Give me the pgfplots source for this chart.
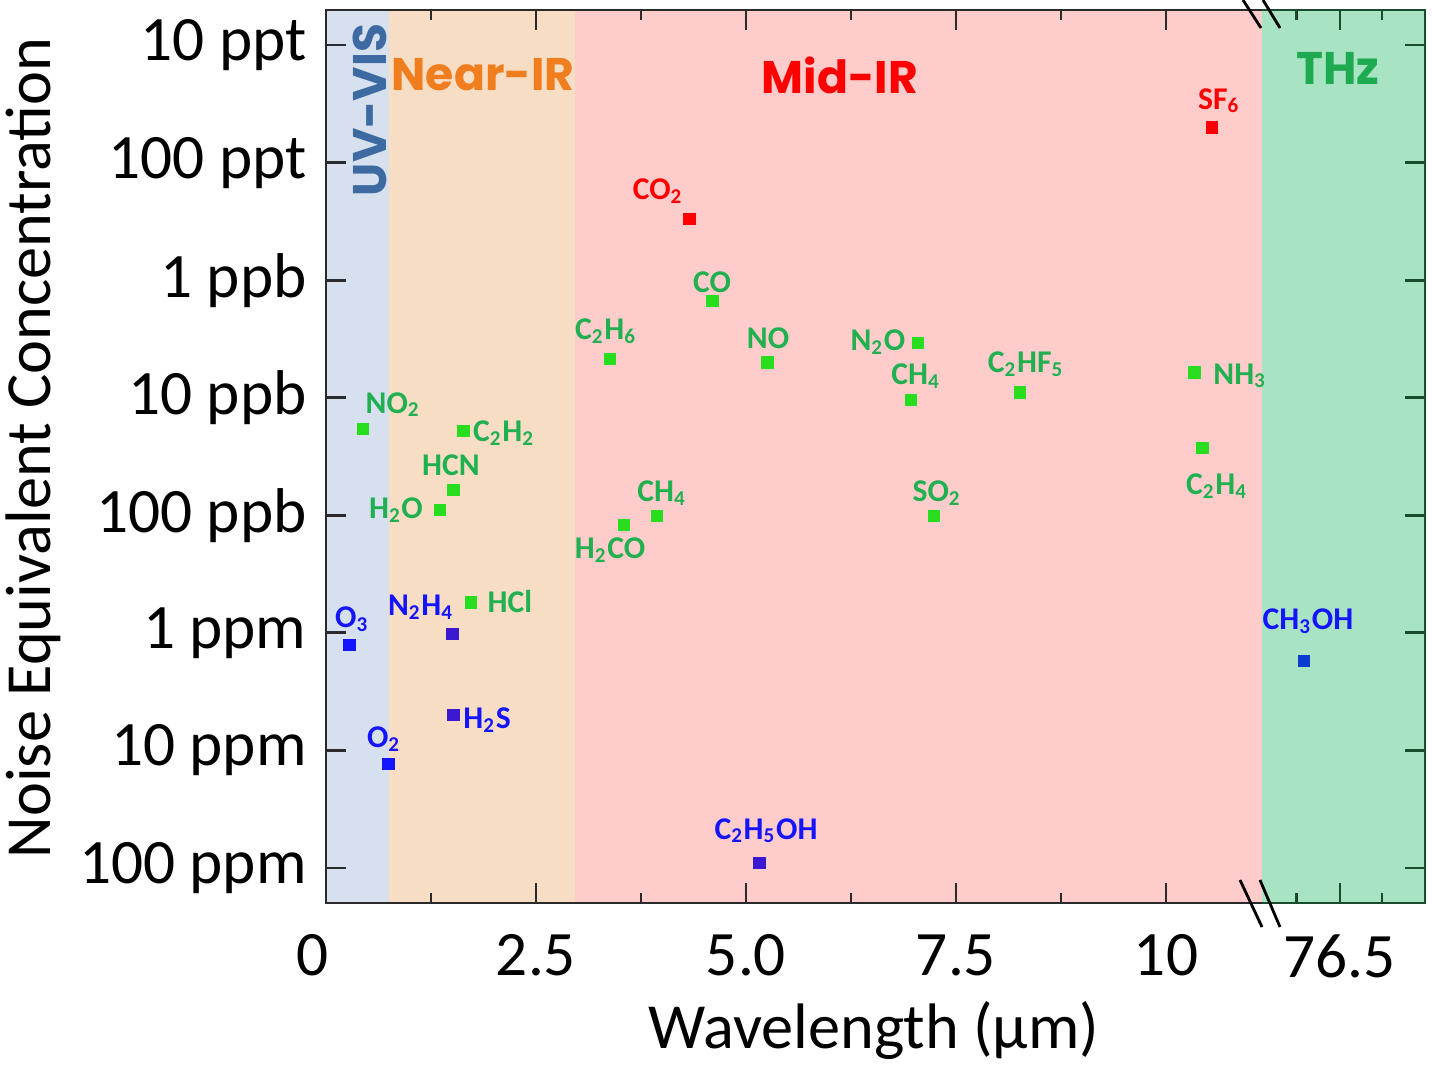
\documentclass[border=0pt]{standalone}
\usepackage{fontspec}
\setmainfont{Carlito}
\newfontfamily\regionfont{Poppins}
\usepackage{pgfplots}
\usepackage{pgfplotstable}
\pgfplotsset{compat=1.18}

\definecolor{uvbg}{HTML}{D6E0EF}
\definecolor{nearbg}{HTML}{F8DDC5}
\definecolor{midbg}{HTML}{FFCCCC}
\definecolor{thzbg}{HTML}{A8E4C4}
\definecolor{uvtext}{HTML}{3D6AA0}
\definecolor{neartext}{HTML}{F07D1E}
\definecolor{midtext}{HTML}{FF0000}
\definecolor{thztext}{HTML}{1EAA50}
\definecolor{greenlab}{HTML}{20B050}
\definecolor{greenmark}{HTML}{28DC1E}
\definecolor{redc}{HTML}{FF0000}
\definecolor{bluec}{HTML}{1414FF}
\definecolor{purplec}{HTML}{3A18D0}
\definecolor{methc}{HTML}{0A3CD0}
\definecolor{axisdark}{HTML}{2A2A2A}
\definecolor{thzaxis}{HTML}{194B2D}

% green species: x (um, plotted), noise-equivalent concentration (ppb)
\pgfplotstableread{
x y
0.437 18.5
1.635 19.1
1.516 61
1.357 90
1.726 554
3.381 4.71
4.603 1.50
5.254 5.0
3.937 101
3.551 121
7.044 3.44
6.964 10.5
8.262 9.06
7.238 101
10.337 6.08
10.432 26.9
}\greendata
\pgfplotstableread{
x y
4.325 0.302
10.544 0.0504
}\reddata
\pgfplotstableread{
x y
0.278 1268
0.742 13120
}\bluedata
\pgfplotstableread{
x y
1.508 1023
1.516 5000
5.159 91200
}\purpledata
\pgfplotstableread{
x y
11.643 1726
}\thzdata

\newcommand\lab{\bfseries\fontsize{9}{10}\selectfont}
\newcommand\sub[1]{\textsubscript{#1}}

\begin{document}
\begin{tikzpicture}
\useasboundingbox (-32.6mm,-16.4mm) rectangle (110.6mm,90.3mm);
\begin{axis}[
  scale only axis, width=109.9mm, height=89.3mm,
  xmin=0, xmax=13.083,
  ymode=log, y dir=reverse, ymin=0.005038, ymax=198600,
  axis on top, clip=false,
  xtick={0,2.5,5,7.5,10,12.07},
  xticklabels={\makebox[0pt]{\hspace{-2.6mm}0},2.5,5.0,7.5,10,76.5},
  minor xtick={1.25,3.75,6.25,8.75,11.55,12.57},
  ytick={0.01,0.1,1,10,100,1000,10000,100000},
  yticklabels={10 ppt,100 ppt,1 ppb,10 ppb,100 ppb,1 ppm,10 ppm,100 ppm},
  yminorticks=false,
  tick align=inside, xtick pos=both, ytick pos=both,
  major tick length=2mm, minor tick length=1mm,
  tick style={axisdark, line width=0.8pt},
  axis line style={axisdark, line width=0.8pt},
  ticklabel style={font=\fontsize{18}{20}\selectfont},
  xticklabel style={yshift=-1.9mm},
  yticklabel style={xshift=-0.7mm},
  xlabel={Wavelength (µm)},
  ylabel={Noise Equivalent Concentration},
  label style={font=\fontsize{18.3}{20}\selectfont},
  xlabel style={at={(axis description cs:0.4986,-0.1422)}, anchor=center},
  ylabel style={at={(axis description cs:-0.2666,0.5095)}, anchor=center},
  /pgf/number format/assume math mode=true,
]
% spectral regions
\fill[uvbg] (axis cs:0,0.005038) rectangle (axis cs:0.75,198600);
\fill[nearbg] (axis cs:0.75,0.005038) rectangle (axis cs:2.964,198600);
\fill[midbg] (axis cs:2.964,0.005038) rectangle (axis cs:11.143,198600);
\fill[thzbg] (axis cs:11.143,0.005038) rectangle (axis cs:13.083,198600);

\addplot[only marks, mark=square*, mark size=0.55mm, color=greenmark] table[x=x,y=y] {\greendata};
\addplot[only marks, mark=square*, mark size=0.55mm, color=redc] table[x=x,y=y] {\reddata};
\addplot[only marks, mark=square*, mark size=0.55mm, color=bluec] table[x=x,y=y] {\bluedata};
\addplot[only marks, mark=square*, mark size=0.55mm, color=purplec] table[x=x,y=y] {\purpledata};
\addplot[only marks, mark=square*, mark size=0.55mm, color=methc] table[x=x,y=y] {\thzdata};

% region labels
\node[uvtext, rotate=90, font=\regionfont\bfseries\fontsize{13.4}{15}\selectfont] at (axis cs:0.524,0.0357) {UV-VIS};
\node[neartext, font=\regionfont\bfseries\fontsize{13}{15}\selectfont] at (axis cs:1.869,0.0180) {Near-IR};
\node[midtext, font=\regionfont\bfseries\fontsize{13}{15}\selectfont] at (axis cs:6.119,0.0180) {Mid-IR};
\node[thztext, font=\regionfont\bfseries\fontsize{13}{15}\selectfont] at (axis cs:12.048,0.0157) {THz};

% species labels
\node[greenlab, font=\lab] at (axis cs:0.798,11.5) {NO\sub{2}};
\node[greenlab, font=\lab] at (axis cs:2.119,19.95) {C\sub{2}H\sub{2}};
\node[greenlab, font=\lab] at (axis cs:1.488,37.3) {HCN};
\node[greenlab, font=\lab] at (axis cs:0.833,90.2) {H\sub{2}O};
\node[greenlab, font=\lab] at (axis cs:2.190,536) {HCl};
\node[bluec, font=\lab] at (axis cs:1.131,603) {N\sub{2}H\sub{4}};
\node[bluec, font=\lab] at (axis cs:0.310,762) {O\sub{3}};
\node[bluec, font=\lab] at (axis cs:1.917,5510) {H\sub{2}S};
\node[bluec, font=\lab] at (axis cs:0.690,8000) {O\sub{2}};
\node[redc, font=\lab] at (axis cs:3.952,0.1746) {CO\sub{2}};
\node[greenlab, font=\lab] at (axis cs:4.595,1.037) {CO};
\node[greenlab, font=\lab] at (axis cs:3.333,2.71) {C\sub{2}H\sub{6}};
\node[greenlab, font=\lab] at (axis cs:5.262,3.10) {NO};
\node[greenlab, font=\lab] at (axis cs:4.0,64.6) {CH\sub{4}};
\node[greenlab, font=\lab] at (axis cs:3.381,197) {H\sub{2}CO};
\node[greenlab, font=\lab] at (axis cs:6.571,3.36) {N\sub{2}O};
\node[greenlab, font=\lab] at (axis cs:7.024,6.53) {CH\sub{4}};
\node[greenlab, font=\lab] at (axis cs:8.333,5.17) {C\sub{2}HF\sub{5}};
\node[greenlab, font=\lab] at (axis cs:7.274,64.6) {SO\sub{2}};
\node[redc, font=\lab] at (axis cs:10.631,0.0299) {SF\sub{6}};
\node[greenlab, font=\lab] at (axis cs:10.881,6.53) {NH\sub{3}};
\node[greenlab, font=\lab] at (axis cs:10.607,56.4) {C\sub{2}H\sub{4}};
\node[bluec, font=\lab] at (axis cs:11.690,793) {CH\sub{3}OH};
\node[bluec, font=\lab] at (axis cs:5.238,48400) {C\sub{2}H\sub{5}OH};
\end{axis}

% THz part of the frame in dark green
\draw[thzaxis, line width=0.8pt] (93.6mm,0) -- (109.9mm,0) -- (109.9mm,89.3mm) -- (93.6mm,89.3mm);
\foreach \yy in {85.8,74.04,62.29,50.53,38.77,27.02,15.26,3.5}
  \draw[thzaxis, line width=0.8pt] (109.9mm,\yy mm) -- ++(-2mm,0);
\foreach \xx/\ll in {97.0/1,101.4/2,105.6/1} {
  \draw[thzaxis, line width=0.8pt] (\xx mm,0) -- ++(0,\ll mm);
  \draw[thzaxis, line width=0.8pt] (\xx mm,89.3mm) -- ++(0,-\ll mm);
}
% axis break marks
\draw[black, line width=0.8pt] (91.7mm,90.3mm) -- (93.5mm,87.5mm);
\draw[black, line width=0.8pt] (93.7mm,90.3mm) -- (95.4mm,87.5mm);
\draw[black, line width=0.8pt] (91.4mm,2.3mm) -- (93.6mm,-2.4mm);
\draw[black, line width=0.8pt] (93.4mm,2.3mm) -- (95.4mm,-2.4mm);
\end{tikzpicture}
\end{document}
